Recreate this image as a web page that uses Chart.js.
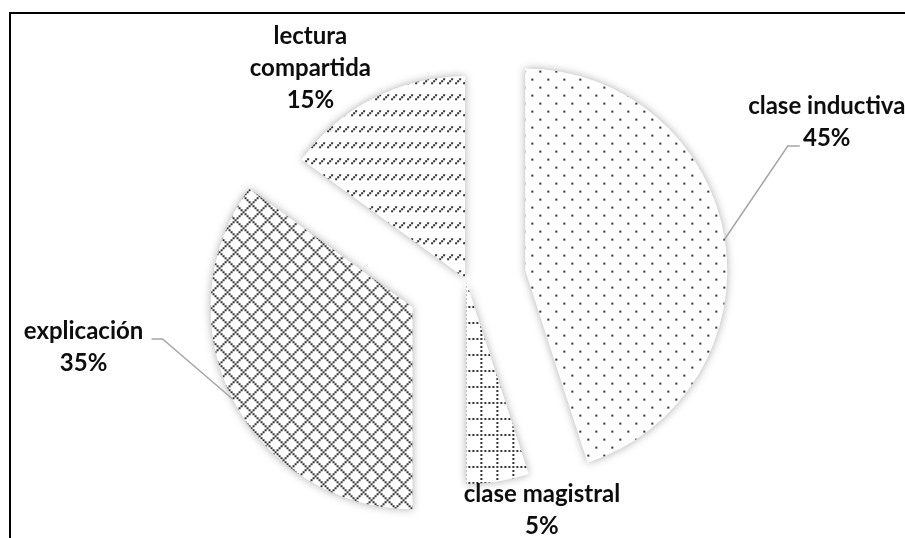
<!DOCTYPE html>
<html>
<head>
<meta charset="utf-8">
<script src="https://cdn.jsdelivr.net/npm/chart.js@4.4.1/dist/chart.umd.min.js"></script>
<style>
html,body{margin:0;padding:0;background:#fff;}
#wrap{position:relative;width:905px;height:538px;}
</style>
</head>
<body>
<div id="wrap"><canvas id="c"></canvas></div>
<script>
// ---- data ----
const categories = ['clase inductiva', 'clase magistral', 'explicación', 'lectura compartida'];
const labelLines = [['clase inductiva'], ['clase magistral'], ['explicación'], ['lectura', 'compartida']];
const values = [45, 5, 35, 15];

// ---- style ----
const explodePx = [60, 2, 60, 2];
const labelShift = [[102, -117], [44, 29], [-149, -52], [-63, -30]];
const leaders = [[[63, -93], [75, -93]], null, [[-70, -60], [-81, -60]], null];
const LINE_H = 32;
const INK = '#333333';
const FONT = 'bold 24px Lato, "Open Sans", sans-serif';

const canvas = document.getElementById('c');
const cctx = canvas.getContext('2d');

function tile(w, h, draw) {
  const t = document.createElement('canvas');
  t.width = w; t.height = h;
  const c = t.getContext('2d');
  c.fillStyle = '#fff'; c.fillRect(0, 0, w, h);
  c.fillStyle = INK;
  draw(c);
  return cctx.createPattern(t, 'repeat');
}
const patDots = tile(16, 16, c => { c.fillRect(0, 0, 2, 2); c.fillRect(8, 8, 2, 2); });
const patGrid = tile(16, 16, c => {
  for (let x = 0; x < 16; x += 4) c.fillRect(x, 0, 2, 2);
  for (let y = 4; y < 16; y += 4) c.fillRect(0, y, 2, 2);
});
const patDiamond = tile(16, 16, c => {
  for (let k = 0; k < 8; k++) { c.fillRect(2 * k, 2 * k, 2, 2); c.fillRect((16 - 2 * k) % 16, 2 * k, 2, 2); }
});
const patDash = tile(8, 16, c => { c.fillRect(0, 4, 2, 2); c.fillRect(2, 2, 2, 2); c.fillRect(4, 0, 2, 2); });

const total = values.reduce((a, b) => a + b, 0);

function midAngle(arc) { return (arc.startAngle + arc.endAngle) / 2; }

// exploded pie: each slice is moved outward along its mid angle
const explodePlugin = {
  id: 'explode',
  beforeDatasetDraw(chart, args) {
    const ctx = chart.ctx;
    ctx.save();
    ctx.shadowColor = 'rgba(0,0,0,0.32)'; ctx.shadowBlur = 9; ctx.shadowOffsetX = 0; ctx.shadowOffsetY = 0;
    args.meta.data.forEach((arc, i) => {
      const h = midAngle(arc);
      ctx.save();
      ctx.translate(Math.cos(h) * explodePx[i], Math.sin(h) * explodePx[i]);
      arc.draw(ctx);
      ctx.restore();
    });
    ctx.restore();
    return false;
  }
};

const decorPlugin = {
  id: 'decor',
  afterDraw(chart) {
    const ctx = chart.ctx;
    ctx.save();
    // frame
    ctx.strokeStyle = '#000'; ctx.lineWidth = 2;
    ctx.beginPath(); ctx.moveTo(10, 538); ctx.lineTo(10, 13); ctx.lineTo(905, 13); ctx.stroke();
    const meta = chart.getDatasetMeta(0);
    meta.data.forEach((arc, i) => {
      const h = midAngle(arc);
      const d = arc.outerRadius + explodePx[i];
      const px = arc.x + Math.cos(h) * d, py = arc.y + Math.sin(h) * d;
      if (leaders[i]) {
        ctx.strokeStyle = '#a6a6a6'; ctx.lineWidth = 1.5;
        ctx.beginPath(); ctx.moveTo(px, py);
        leaders[i].forEach(q => ctx.lineTo(px + q[0], py + q[1]));
        ctx.stroke();
      }
      const lines = labelLines[i].concat([Math.round(values[i] / total * 100) + '%']);
      const cx = px + labelShift[i][0], cy = py + labelShift[i][1];
      ctx.fillStyle = '#0d0d0d'; ctx.font = FONT;
      ctx.textAlign = 'center'; ctx.textBaseline = 'middle';
      lines.forEach((s, j) => ctx.fillText(s, cx, cy + (j - (lines.length - 1) / 2) * LINE_H));
    });
    ctx.restore();
  }
};

new Chart(canvas, {
  type: 'pie',
  data: {
    labels: categories,
    datasets: [{
      data: values,
      backgroundColor: [patDots, patGrid, patDiamond, patDash],
      borderWidth: 0,
      hoverOffset: 0
    }]
  },
  options: {
    responsive: true,
    maintainAspectRatio: false,
    animation: false,
    events: [],
    radius: 202,
    layout: { padding: { left: 27, right: 0, top: 22, bottom: 0 } },
    plugins: { legend: { display: false }, tooltip: { enabled: false } }
  },
  plugins: [explodePlugin, decorPlugin]
});
</script>
</body>
</html>
